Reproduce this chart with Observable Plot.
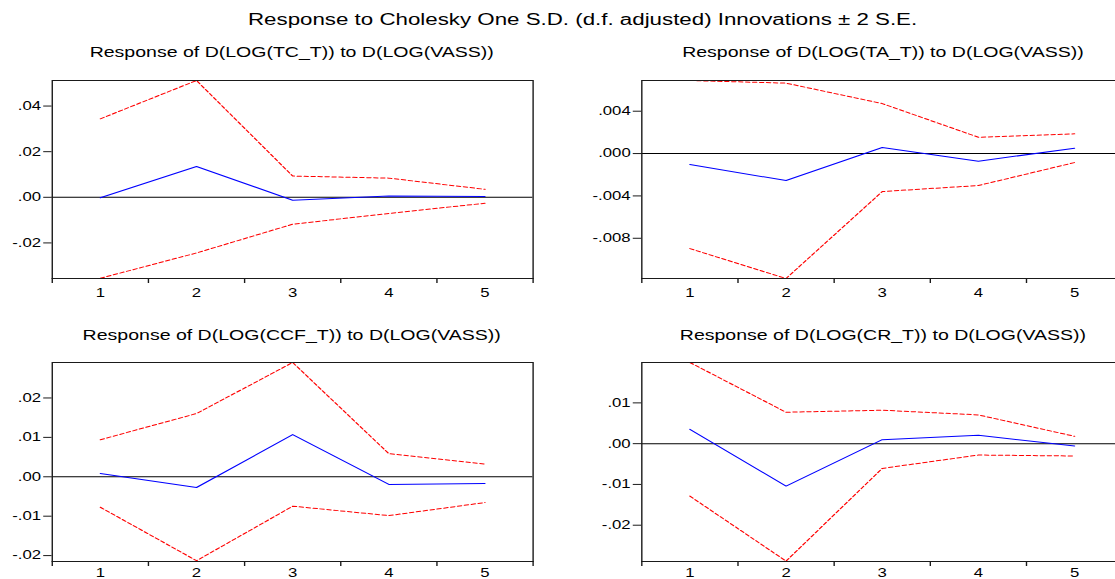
<!DOCTYPE html>
<html>
<head>
<meta charset="utf-8">
<script src="https://cdn.jsdelivr.net/npm/d3@7"></script>
<script src="https://cdn.jsdelivr.net/npm/@observablehq/plot@0.6"></script>
<style>
  html, body { margin: 0; padding: 0; background: #fff; overflow: hidden; }
  #wrap { position: relative; width: 800px; height: 579px; transform: scaleX(1.39375); transform-origin: 0 0; font-family: "Liberation Sans", Arial, sans-serif; color: #000; }
  .ttl { position: absolute; transform: translateX(-50%); white-space: nowrap; line-height: 1; }
  .panel { position: absolute; width: 386px; }
  .panel svg { overflow: visible; max-width: none !important; }
</style>
</head>
<body>
<div id="wrap"></div>
<script>
// ---- data ----
const horizons = [1, 2, 3, 4, 5];

const mainTitle = "Response to Cholesky One S.D. (d.f. adjusted) Innovations ± 2 S.E.";
const panelTitles = [
  "Response of D(LOG(TC_T)) to D(LOG(VASS))",
  "Response of D(LOG(TA_T)) to D(LOG(VASS))",
  "Response of D(LOG(CCF_T)) to D(LOG(VASS))",
  "Response of D(LOG(CR_T)) to D(LOG(VASS))"
];

const tcResp  = [-0.0002, 0.0135, -0.0013, 0.0006, 0.0004];
const tcUpper = [0.0344, 0.0512, 0.0093, 0.0084, 0.0035];
const tcLower = [-0.0355, -0.0244, -0.0118, -0.0071, -0.0026];
const tcTicks = [-0.02, 0, 0.02, 0.04];

const taResp  = [-0.00104, -0.00255, 0.00057, -0.00072, 0.0005];
const taUpper = [0.0069, 0.00665, 0.00472, 0.00154, 0.00186];
const taLower = [-0.00898, -0.0118, -0.00359, -0.00302, -0.00085];
const taTicks = [-0.008, -0.004, 0, 0.004];

const ccfResp  = [0.00085, -0.00272, 0.0107, -0.00195, -0.0017];
const ccfUpper = [0.0094, 0.01605, 0.0290, 0.00586, 0.00323];
const ccfLower = [-0.00773, -0.0213, -0.00747, -0.00985, -0.00654];
const ccfTicks = [-0.02, -0.01, 0, 0.01, 0.02];

const crResp  = [0.00352, -0.0104, 0.00098, 0.00205, -0.00057];
const crUpper = [0.0199, 0.0077, 0.0082, 0.00705, 0.0018];
const crLower = [-0.01287, -0.0288, -0.00607, -0.00279, -0.00303];
const crTicks = [-0.02, -0.01, 0, 0.01];

// ---- layout ----
const wrap = document.getElementById("wrap");

function addTitle(text, cx, cy, size) {
  const d = document.createElement("div");
  d.className = "ttl";
  d.textContent = text;
  d.style.fontSize = size + "px";
  d.style.left = cx + "px";
  d.style.top = (cy - size * 0.55) + "px";
  wrap.appendChild(d);
}

function fmtFor(dec) {
  return d => d.toFixed(dec).replace("0.", ".");
}

function panel({resp, upper, lower, ticks, dec, domain, left, top, plotH, labelPad}) {
  const rows = horizons.map((h, i) => ({h, resp: resp[i], upper: upper[i], lower: lower[i]}));
  const seps = d3.range(0.5, 5.51, 1);
  const chart = Plot.plot({
    width: 386,
    height: 20 + plotH + 30,
    marginLeft: 36,
    marginRight: 5,
    marginTop: 20,
    marginBottom: 30,
    style: {fontFamily: "'Liberation Sans', Arial, sans-serif", fontSize: "12px", color: "#000", background: "transparent", overflow: "visible", maxWidth: "none"},
    x: {domain: [0.5, 5.5], axis: null},
    y: {domain, axis: null},
    marks: [
      Plot.ruleY([0], {stroke: "#000", strokeWidth: 1}),
      Plot.line(rows, {x: "h", y: "upper", stroke: "#ff0000", strokeWidth: 1, strokeDasharray: "3,2"}),
      Plot.line(rows, {x: "h", y: "lower", stroke: "#ff0000", strokeWidth: 1, strokeDasharray: "3,2"}),
      Plot.line(rows, {x: "h", y: "resp", stroke: "#0000ff", strokeWidth: 1}),
      Plot.frame({stroke: "#1a1a1a", strokeWidth: 1}),
      Plot.axisY(ticks, {tickSize: 6, tickPadding: 2, tickFormat: fmtFor(dec), label: null, stroke: "#1a1a1a", fontSize: 12}),
      Plot.axisX(seps, {tickSize: 5, tickFormat: () => "", label: null, stroke: "#1a1a1a"}),
      Plot.axisX(horizons, {tickSize: 0, tickPadding: labelPad, label: null, fontSize: 12})
    ]
  });
  const div = document.createElement("div");
  div.className = "panel";
  div.style.left = left + "px";
  div.style.top = top + "px";
  div.appendChild(chart);
  wrap.appendChild(div);
}

addTitle(mainTitle, 418, 21, 16);
addTitle(panelTitles[0], 209.3, 53, 14);
addTitle(panelTitles[1], 633.5, 53, 14);
addTitle(panelTitles[2], 209.3, 336, 14);
addTitle(panelTitles[3], 633.5, 336, 14);

panel({resp: tcResp, upper: tcUpper, lower: tcLower, ticks: tcTicks, dec: 2, domain: [-0.0356, 0.0512], left: 0.6, top: 60, plotH: 198, labelPad: 10});
panel({resp: taResp, upper: taUpper, lower: taLower, ticks: taTicks, dec: 3, domain: [-0.0118, 0.0069], left: 424.4, top: 60, plotH: 198, labelPad: 10});
panel({resp: ccfResp, upper: ccfUpper, lower: ccfLower, ticks: ccfTicks, dec: 2, domain: [-0.0215, 0.0290], left: 0.6, top: 342, plotH: 199, labelPad: 7});
panel({resp: crResp, upper: crUpper, lower: crLower, ticks: crTicks, dec: 2, domain: [-0.0289, 0.0199], left: 424.4, top: 342, plotH: 199, labelPad: 7});
</script>
</body>
</html>
